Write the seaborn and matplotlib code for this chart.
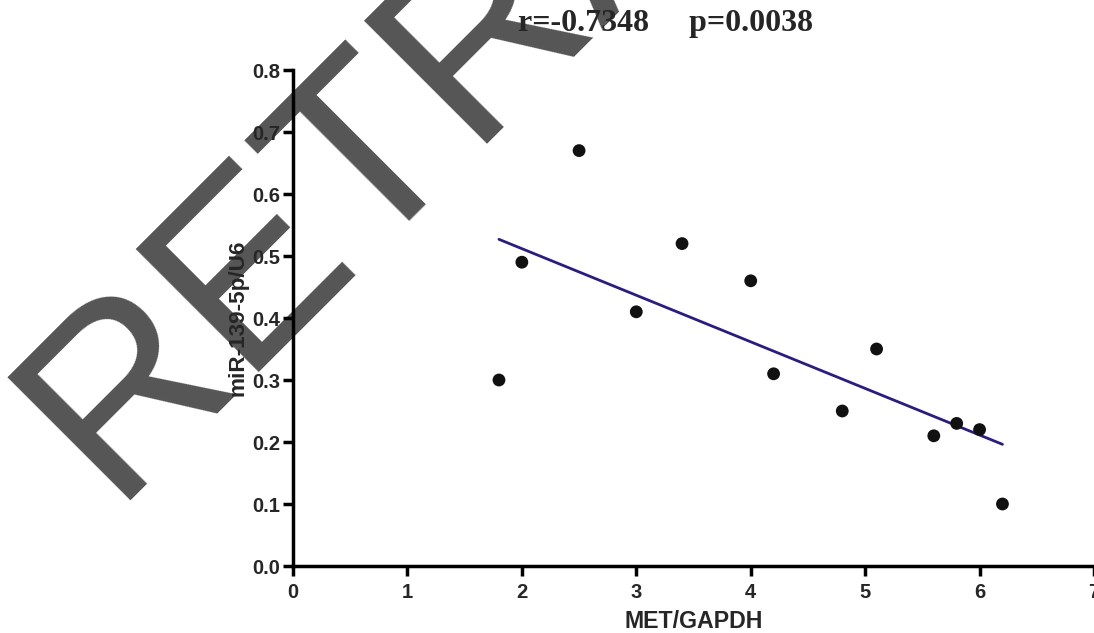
import matplotlib
matplotlib.use("Agg")
import matplotlib.pyplot as plt
import seaborn as sns
import numpy as np
import pandas as pd

# Data
met_gapdh = [1.8, 2.0, 2.5, 3.0, 3.4, 4.0, 4.2, 4.8, 5.1, 5.6, 5.8, 6.0, 6.2]
mir139 = [0.30, 0.49, 0.67, 0.41, 0.52, 0.46, 0.31, 0.25, 0.35, 0.21, 0.23, 0.22, 0.10]
x_ticks = [0, 1, 2, 3, 4, 5, 6, 7]
y_ticks = [0.0, 0.1, 0.2, 0.3, 0.4, 0.5, 0.6, 0.7, 0.8]
x_label = "MET/GAPDH"
y_label = "miR-139-5p/U6"
stat_text = "r=-0.7348     p=0.0038"
watermark = "RETRACTED"

df = pd.DataFrame({"MET/GAPDH": met_gapdh, "miR-139-5p/U6": mir139})

sns.set_style("ticks")
plt.rcParams["font.family"] = ["Liberation Sans", "DejaVu Sans"]

W, H = 1094, 633
fig = plt.figure(figsize=(W / 100, H / 100), dpi=100, facecolor="white")

# Watermark behind the plot
fig.text(110 / W, 1 - 501 / H, watermark, fontsize=182, color="#555555",
         family="Liberation Sans", rotation=45, rotation_mode="anchor",
         ha="left", va="baseline", zorder=-5)

ax = fig.add_axes([293 / W, (H - 566) / H, (W - 293) / W, (566 - 70) / H])
ax.set_facecolor("none")

sns.regplot(data=df, x="MET/GAPDH", y="miR-139-5p/U6", ax=ax, ci=None, truncate=True,
            scatter_kws=dict(s=85, color="#111111", alpha=1, edgecolor="none", zorder=3,
                             clip_on=False),
            line_kws=dict(color="#2b1d80", linewidth=2.0, zorder=2))

ax.set_xlim(0, 7)
ax.set_ylim(0, 0.8)
ax.set_xticks(x_ticks)
ax.set_yticks(y_ticks)
ax.set_xticklabels([str(t) for t in x_ticks])
ax.set_yticklabels([f"{t:.1f}" for t in y_ticks])
for s in ["top", "right"]:
    ax.spines[s].set_visible(False)
for s in ["left", "bottom"]:
    ax.spines[s].set_linewidth(2.5)
    ax.spines[s].set_color("black")
ax.tick_params(axis="both", direction="out", length=7, width=2.5, color="black",
               labelsize=14.5)
ax.tick_params(axis="x", pad=5)
ax.tick_params(axis="y", pad=2)
for lab in ax.get_xticklabels() + ax.get_yticklabels():
    lab.set_fontweight("bold")

ax.set_xlabel(x_label, fontsize=16.7, fontweight="bold", labelpad=6)
ax.set_ylabel(y_label, fontsize=16.2, fontweight="bold", labelpad=3)

fig.text(666 / W, 1 - 23 / H, stat_text, fontsize=23, fontweight="bold",
         family="Liberation Serif", ha="center", va="center")

fig.savefig("out.png", dpi=100, facecolor="white")
